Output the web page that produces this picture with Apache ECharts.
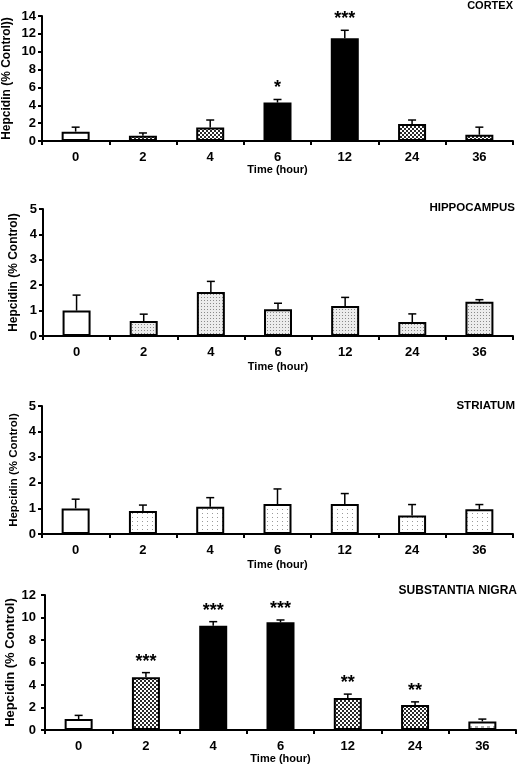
<!DOCTYPE html>
<html>
<head>
<meta charset="utf-8">
<script src="https://cdn.jsdelivr.net/npm/echarts@6/dist/echarts.min.js"></script>
<style>
html,body{margin:0;padding:0;background:#fff;}
#chart{width:517px;height:766px;}
</style>
</head>
<body>
<div id="chart"></div>
<script>
// ---- data ----
var categories = ['0', '2', '4', '6', '12', '24', '36'];

var cortexMean = [1.05, 0.6, 1.5, 4.3, 11.5, 1.9, 0.7];
var cortexSem  = [0.5, 0.3, 0.85, 0.35, 0.9, 0.45, 0.85];
var cortexStars = ['', '', '', '*', '***', '', ''];
var cortexFill = ['white', 'check', 'check', 'black', 'black', 'check', 'check'];

var hippoMean = [1.0, 0.59, 1.73, 1.05, 1.18, 0.55, 1.35];
var hippoSem  = [0.61, 0.27, 0.42, 0.24, 0.34, 0.32, 0.08];
var hippoStars = ['', '', '', '', '', '', ''];
var hippoFill = ['white', 'dot', 'dot', 'dot', 'dot', 'dot', 'dot'];

var striatumMean = [1.0, 0.9, 1.06, 1.17, 1.17, 0.72, 0.97];
var striatumSem  = [0.36, 0.23, 0.36, 0.59, 0.41, 0.43, 0.18];
var striatumStars = ['', '', '', '', '', '', ''];
var striatumFill = ['white', 'sparse', 'sparse', 'sparse', 'sparse', 'sparse', 'sparse'];

var snMean = [0.97, 4.7, 9.27, 9.57, 2.84, 2.22, 0.76];
var snSem  = [0.33, 0.4, 0.36, 0.21, 0.35, 0.28, 0.21];
var snStars = ['', '***', '***', '***', '**', '**', ''];
var snFill = ['white', 'check', 'black', 'black', 'check', 'check', 'light'];

var panelTitles = ['CORTEX', 'HIPPOCAMPUS', 'STRIATUM', 'SUBSTANTIA NIGRA'];
var yNames = ['Hepcidin (% Control))', 'Hepcidin (% Control)', 'Hepcidin (% Control)', 'Hepcidin (% Control)'];
var yMax = [14, 5, 5, 12];
var yInterval = [2, 1, 1, 2];
var xName = 'Time (hour)';

// ---- patterns ----
function makeTile(w, h, draw) {
  var c = document.createElement('canvas');
  c.width = w; c.height = h;
  var ctx = c.getContext('2d');
  draw(ctx);
  return c;
}
var fills = {
  white: '#ffffff',
  black: '#000000',
  check: { image: makeTile(4, 4, function (ctx) {
    ctx.fillStyle = '#ffffff'; ctx.fillRect(0, 0, 4, 4);
    ctx.fillStyle = '#2a2a2a'; ctx.fillRect(0, 0, 2, 2); ctx.fillRect(2, 2, 2, 2);
  }), repeat: 'repeat' },
  dot: { image: makeTile(3, 3, function (ctx) {
    ctx.fillStyle = '#ececec'; ctx.fillRect(0, 0, 3, 3);
    ctx.fillStyle = '#8a8a8a'; ctx.fillRect(0, 0, 1, 1);
  }), repeat: 'repeat' },
  sparse: { image: makeTile(5, 4, function (ctx) {
    ctx.fillStyle = '#ffffff'; ctx.fillRect(0, 0, 5, 4);
    ctx.fillStyle = '#9a9a9a'; ctx.fillRect(2, 1, 1, 1);
  }), repeat: 'repeat' },
  light: { image: makeTile(6, 5, function (ctx) {
    ctx.fillStyle = '#ffffff'; ctx.fillRect(0, 0, 6, 5);
    ctx.fillStyle = '#b0b0b0'; ctx.fillRect(1, 1, 3, 2);
  }), repeat: 'repeat' }
};

var panels = [
  { mean: cortexMean, sem: cortexSem, stars: cortexStars, fill: cortexFill },
  { mean: hippoMean, sem: hippoSem, stars: hippoStars, fill: hippoFill },
  { mean: striatumMean, sem: striatumSem, stars: striatumStars, fill: striatumFill },
  { mean: snMean, sem: snSem, stars: snStars, fill: snFill }
];

var gridPos = [
  { left: 42, right: 4, top: 16, height: 125 },
  { left: 43, right: 4, top: 209, height: 127 },
  { left: 42, right: 4, top: 406, height: 128 },
  { left: 45, right: 1, top: 595, height: 135 }
];
var titleTops = [0, 201.5, 399.5, 585];
var titleRights = [4, 2, 2, 0];
var titleSizes = [11, 11.5, 11.5, 12];
var yNameSize = [12, 12, 11.5, 13];
var yNameGap = [29, 23, 22, 28.5];
var yLabelMargin = [6, 6, 6, 9];
var xNameGap = [21.5, 25.5, 25.5, 22.5];

var FONT = '"Liberation Sans", Arial, sans-serif';

var option = {
  animation: false,
  backgroundColor: '#fff',
  title: [],
  grid: [],
  xAxis: [],
  yAxis: [],
  series: []
};

panels.forEach(function (p, k) {
  option.grid.push(Object.assign({ containLabel: false, outerBoundsMode: 'none' }, gridPos[k]));
  option.title.push({
    text: panelTitles[k], right: titleRights[k], top: titleTops[k], padding: 0,
    textStyle: { fontFamily: FONT, fontSize: titleSizes[k], fontWeight: 'bold', color: '#000' }
  });
  option.xAxis.push({
    type: 'category', gridIndex: k, data: categories,
    name: xName, nameLocation: 'middle', nameGap: xNameGap[k],
    nameTextStyle: { fontFamily: FONT, fontSize: 11, fontWeight: 'bold', color: '#000' },
    axisLine: { lineStyle: { color: '#000', width: 2 } },
    axisTick: { show: true, length: 4, lineStyle: { color: '#000', width: 2 } },
    axisLabel: { fontFamily: FONT, fontSize: 13, fontWeight: 'bold', color: '#000', margin: 10 }
  });
  option.yAxis.push({
    type: 'value', gridIndex: k, min: 0, max: yMax[k], interval: yInterval[k],
    name: yNames[k], nameLocation: 'middle', nameGap: yNameGap[k], nameRotate: 90,
    nameMoveOverlap: false,
    nameTextStyle: { fontFamily: FONT, fontSize: yNameSize[k], fontWeight: 'bold', color: '#000' },
    axisLine: { show: true, lineStyle: { color: '#000', width: 2 } },
    axisTick: { show: true, length: 4, lineStyle: { color: '#000', width: 2 } },
    axisLabel: { fontFamily: FONT, fontSize: 13, fontWeight: 'bold', color: '#000', margin: yLabelMargin[k] },
    splitLine: { show: false }
  });
  option.series.push({
    type: 'bar', xAxisIndex: k, yAxisIndex: k, barWidth: 28,
    data: p.mean.map(function (v, i) {
      return { value: v, itemStyle: { color: fills[p.fill[i]], borderColor: '#000', borderWidth: 2 } };
    }),
    z: 2
  });
  option.series.push({
    type: 'custom', xAxisIndex: k, yAxisIndex: k, z: 3,
    data: p.mean.map(function (v, i) { return [i, v, p.sem[i]]; }),
    renderItem: (function (stars) {
      return function (params, api) {
        var i = api.value(0), m = api.value(1), s = api.value(2);
        var p0 = api.coord([i, m]);
        var p1 = api.coord([i, m + s]);
        var children = [
          { type: 'line', shape: { x1: p0[0], y1: p0[1], x2: p1[0], y2: p1[1] }, style: { stroke: '#000', lineWidth: 1.5 } },
          { type: 'line', shape: { x1: p1[0] - 4, y1: p1[1], x2: p1[0] + 4, y2: p1[1] }, style: { stroke: '#000', lineWidth: 1.5 } }
        ];
        var st = stars[params.dataIndex];
        if (st) {
          children.push({
            type: 'text',
            style: { text: st, x: p1[0], y: p1[1] - 2, textAlign: 'center', textVerticalAlign: 'bottom',
              font: 'bold 18px ' + FONT, fill: '#000' }
          });
        }
        return { type: 'group', children: children };
      };
    })(p.stars)
  });
});

var chart = echarts.init(document.getElementById('chart'), null, { renderer: 'canvas' });
chart.setOption(option);
</script>
</body>
</html>
